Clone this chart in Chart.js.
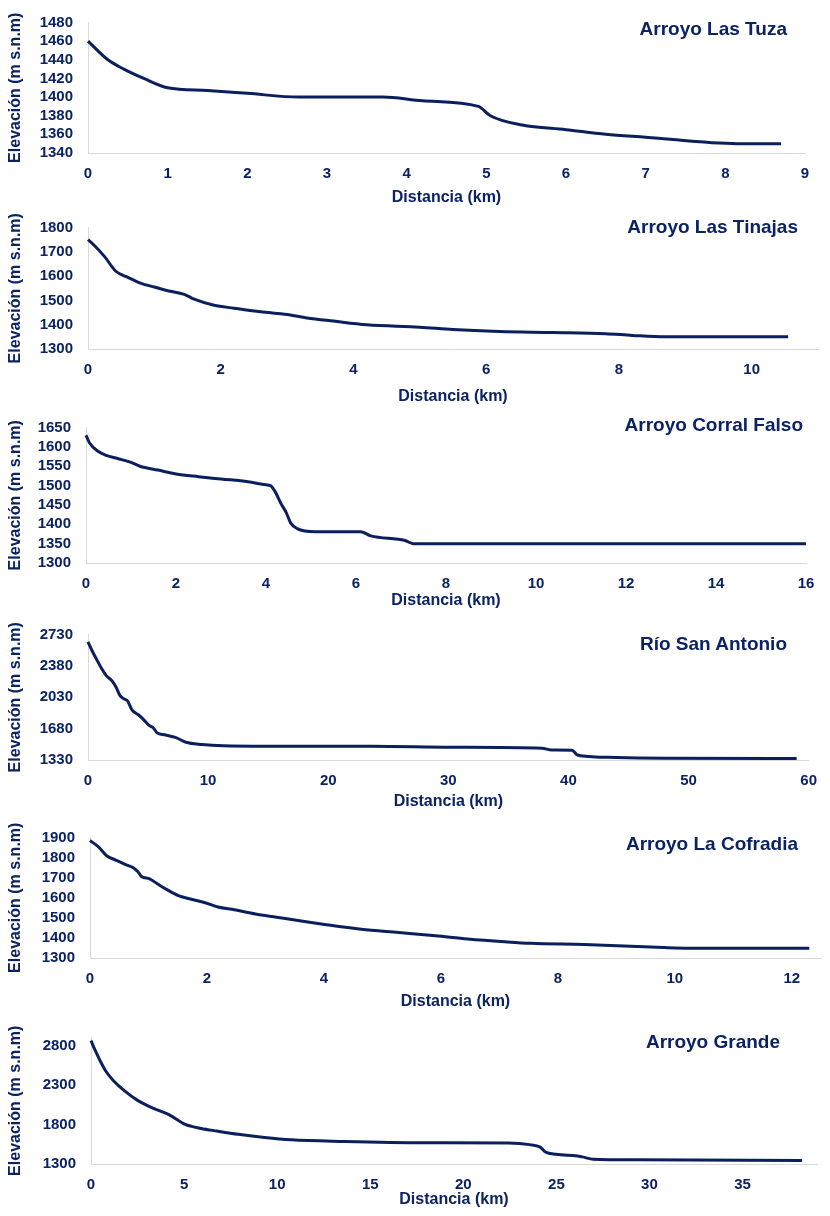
<!DOCTYPE html>
<html>
<head>
<meta charset="utf-8">
<script src="https://cdn.jsdelivr.net/npm/chart.js@4.4.0/dist/chart.umd.min.js"></script>
<style>
  html, body { margin: 0; padding: 0; background: #ffffff; }
  body { width: 830px; height: 1216px; position: relative; overflow: hidden; }
  .panel { position: absolute; left: 0; width: 830px; }
  .panel canvas { position: absolute; left: 0; top: 0; }
  .ptitle { position: absolute; font-family: "Liberation Sans", Arial, sans-serif; font-weight: bold;
            font-size: 19px; color: #0b2263; white-space: nowrap; line-height: 1; }
</style>
</head>
<body>
<script>
// ---------------- DATA ----------------
const tuzaKm   = [0, 0.25, 0.45, 0.7, 1.0, 1.5, 2.0, 2.65, 3.7, 4.2, 4.9, 5.05, 5.45, 6.0, 6.5, 7.0, 8.15, 8.7];
const tuzaElev = [1460, 1440, 1430, 1420, 1410, 1407, 1404, 1400, 1400, 1396, 1390, 1380, 1370, 1365, 1360, 1357, 1350, 1350];
const tuzaXTicks = [0, 1, 2, 3, 4, 5, 6, 7, 8, 9];
const tuzaYTicks = [1340, 1360, 1380, 1400, 1420, 1440, 1460, 1480];

const tinajasKm   = [0, 0.1, 0.25, 0.42, 0.6, 0.8, 1.0, 1.2, 1.45, 1.6, 1.9, 2.2, 2.6, 3.0, 3.3, 3.7, 4.2, 5.0, 5.5, 6.2, 7.0, 7.8, 8.2, 8.7, 10.55];
const tinajasElev = [1750, 1725, 1680, 1620, 1595, 1570, 1555, 1540, 1525, 1505, 1480, 1468, 1453, 1442, 1428, 1415, 1400, 1390, 1380, 1372, 1368, 1363, 1356, 1350, 1350];
const tinajasXTicks = [0, 2, 4, 6, 8, 10];
const tinajasYTicks = [1300, 1400, 1500, 1600, 1700, 1800];

const corralKm   = [0, 0.08, 0.25, 0.45, 0.7, 1.0, 1.2, 1.6, 2.0, 2.5, 3.0, 3.6, 4.0, 4.1, 4.2, 4.34, 4.45, 4.55, 4.69, 5.1, 6.1, 6.33, 7.09, 7.27, 16];
const corralElev = [1630, 1610, 1590, 1578, 1570, 1560, 1550, 1540, 1530, 1523, 1517, 1510, 1502, 1500, 1485, 1452, 1430, 1403, 1389, 1381, 1381, 1370, 1358, 1350, 1350];
const corralXTicks = [0, 2, 4, 6, 8, 10, 12, 14, 16];
const corralYTicks = [1300, 1350, 1400, 1450, 1500, 1550, 1600, 1650];

const antonioKm   = [0, 0.31, 0.66, 1.1, 1.54, 1.99, 2.34, 2.65, 2.96, 3.31, 3.66, 4.19, 4.63, 5.07, 5.43, 5.73, 6.4, 7.28, 8.16, 9.48, 11.25, 14.78, 23.6, 30.2, 37.8, 38.6, 40.3, 40.7, 41.0, 44, 48, 59];
const antonioElev = [2647, 2557, 2466, 2358, 2268, 2214, 2142, 2051, 2015, 1986, 1889, 1835, 1781, 1719, 1690, 1636, 1611, 1582, 1528, 1503, 1488, 1483, 1483, 1472, 1460, 1442, 1440, 1390, 1378, 1358, 1350, 1347];
const antonioXTicks = [0, 10, 20, 30, 40, 50, 60];
const antonioYTicks = [1330, 1680, 2030, 2380, 2730];

const cofradiaKm   = [0, 0.15, 0.29, 0.43, 0.61, 0.74, 0.82, 0.88, 1.02, 1.15, 1.33, 1.51, 1.7, 1.97, 2.19, 2.47, 2.83, 3.19, 3.64, 4.01, 4.64, 5.28, 5.91, 6.46, 7.09, 7.54, 8.45, 9.81, 10.26, 12.3];
const cofradiaElev = [1885, 1852, 1808, 1789, 1765, 1749, 1729, 1706, 1694, 1670, 1638, 1611, 1595, 1575, 1554, 1540, 1519, 1503, 1483, 1467, 1443, 1427, 1411, 1395, 1381, 1373, 1367, 1352, 1349, 1349];
const cofradiaXTicks = [0, 2, 4, 6, 8, 10, 12];
const cofradiaYTicks = [1300, 1400, 1500, 1600, 1700, 1800, 1900];

const grandeKm   = [0, 0.22, 0.51, 0.8, 1.22, 1.79, 2.5, 3.36, 4.21, 5.06, 5.92, 6.77, 7.91, 9.33, 10.76, 13.6, 17.87, 22.43, 23.56, 24.13, 24.41, 24.99, 26.12, 26.4, 26.98, 29.25, 38.2];
const grandeElev = [2860, 2739, 2596, 2473, 2351, 2228, 2105, 2003, 1921, 1800, 1750, 1717, 1676, 1635, 1606, 1586, 1570, 1566, 1545, 1513, 1451, 1423, 1402, 1390, 1361, 1353, 1345];
const grandeXTicks = [0, 5, 10, 15, 20, 25, 30, 35];
const grandeYTicks = [1300, 1800, 2300, 2800];

const panelTitles = ["Arroyo Las Tuza", "Arroyo Las Tinajas", "Arroyo Corral Falso", "Río San Antonio", "Arroyo La Cofradia", "Arroyo Grande"];
const xAxisTitle = "Distancia (km)";
const yAxisTitle = "Elevación (m s.n.m)";

// ---------------- LAYOUT ----------------
const NAVY = '#0b2263';
const LINE = '#0a1f5c';
const AXIS = '#d9d9d9';

const panels = [
  { km: tuzaKm, el: tuzaElev, xt: tuzaXTicks, yt: tuzaYTicks, T: 0, top: 16, bottom: 153, titleY: 197, left: 88, right: 805,
    xmin: 0, xmax: 9, ymin: 1340, ymax: 1480, tRight: 43, tTop: 19 },
  { km: tinajasKm, el: tinajasElev, xt: tinajasXTicks, yt: tinajasYTicks, T: 205, top: 216, bottom: 349, titleY: 396, left: 88, right: 818,
    xmin: 0, xmax: 11, ymin: 1300, ymax: 1800, tRight: 32, tTop: 217 },
  { km: corralKm, el: corralElev, xt: corralXTicks, yt: corralYTicks, T: 405, top: 418, bottom: 563, titleY: 600, left: 86, right: 806,
    xmin: 0, xmax: 16, ymin: 1300, ymax: 1650, tRight: 27, tTop: 415 },
  { km: antonioKm, el: antonioElev, xt: antonioXTicks, yt: antonioYTicks, T: 612, top: 629, bottom: 760, titleY: 801, left: 88, right: 814,
    xmin: 0, xmax: 60, ymin: 1330, ymax: 2730, tRight: 43, tTop: 634 },
  { km: cofradiaKm, el: cofradiaElev, xt: cofradiaXTicks, yt: cofradiaYTicks, T: 815, top: 831, bottom: 958, titleY: 1001, left: 90, right: 821,
    xmin: 0, xmax: 12.5, ymin: 1300, ymax: 1900, tRight: 32, tTop: 834 },
  { km: grandeKm, el: grandeElev, xt: grandeXTicks, yt: grandeYTicks, T: 1015, top: 1032, bottom: 1164, titleY: 1199, left: 91, right: 817,
    xmin: 0, xmax: 39, ymin: 1300, ymax: 2900, tRight: 50, tTop: 1032 }
];

const tickFont = { family: '"Liberation Sans", Arial, sans-serif', size: 15, weight: 'bold', lineHeight: 1 };
const titleFont = { family: '"Liberation Sans", Arial, sans-serif', size: 16, weight: 'bold' };

panels.forEach((p, i) => {
  const endY = p.titleY + 14;
  const H = endY - p.T;
  const div = document.createElement('div');
  div.className = 'panel';
  div.style.top = p.T + 'px';
  div.style.height = H + 'px';
  const cv = document.createElement('canvas');
  cv.width = 830; cv.height = H;
  cv.style.width = '830px'; cv.style.height = H + 'px';
  div.appendChild(cv);
  document.body.appendChild(div);

  const t = document.createElement('div');
  t.className = 'ptitle';
  t.textContent = panelTitles[i];
  t.style.right = p.tRight + 'px';
  t.style.top = p.tTop + 'px';
  document.body.appendChild(t);

  const pts = p.km.map((x, k) => ({ x: x, y: p.el[k] }));
  const xAxisH = endY - p.bottom;

  new Chart(cv, {
    type: 'line',
    data: { datasets: [{ data: pts, borderColor: LINE, borderWidth: 3, pointRadius: 0,
                          cubicInterpolationMode: 'monotone', fill: false, clip: false }] },
    options: {
      responsive: false, animation: false, devicePixelRatio: 1,
      plugins: { legend: { display: false }, tooltip: { enabled: false }, title: { display: false } },
      layout: { padding: { top: p.top - p.T, left: 0, right: 830 - p.right, bottom: 0 } },
      scales: {
        x: {
          type: 'linear', min: p.xmin, max: p.xmax,
          grid: { display: false, drawTicks: false },
          border: { display: true, color: AXIS, width: 1 },
          ticks: { autoSkip: false, color: NAVY, font: tickFont, padding: 13, maxRotation: 0,
                   callback: v => String(v) },
          afterBuildTicks: s => { s.ticks = p.xt.map(v => ({ value: v })); },
          title: { display: true, text: xAxisTitle, color: NAVY, font: titleFont, padding: { top: 0, bottom: 4 } },
          afterFit: s => { s.height = xAxisH; }
        },
        y: {
          type: 'linear', min: p.ymin, max: p.ymax,
          grid: { display: false, drawTicks: false },
          border: { display: true, color: AXIS, width: 1 },
          ticks: { autoSkip: false, color: NAVY, font: tickFont, padding: 15,
                   callback: v => String(v) },
          afterBuildTicks: s => { s.ticks = p.yt.map(v => ({ value: v })); },
          title: { display: true, text: yAxisTitle, color: NAVY, font: titleFont, padding: { top: 6, bottom: 0 } },
          afterFit: s => { s.width = p.left; }
        }
      }
    }
  });
});
</script>
</body>
</html>
